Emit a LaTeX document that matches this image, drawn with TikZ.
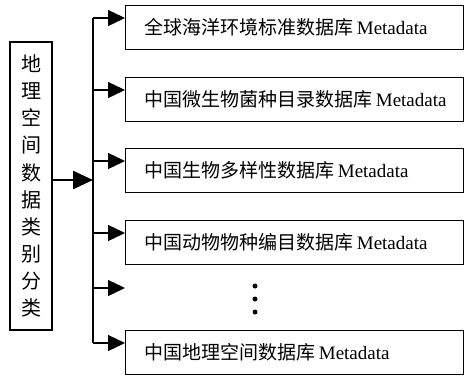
\documentclass[tikz,border=0pt]{standalone}
\usepackage{fontspec}
\setmainfont{Liberation Serif}
\newfontfamily\cjk{Noto Sans CJK SC}
\usetikzlibrary{arrows.meta, positioning}

\tikzset{
  dbbox/.style={draw, line width=1.4pt, anchor=north west, minimum height=44pt,
    text width=300pt, inner xsep=19pt, align=left, font=\fontsize{19}{21}\selectfont},
  branch/.style={line width=1.4pt, -{Triangle[length=17pt,width=16pt]}},
}

\begin{document}
\begin{tikzpicture}[x=1pt,y=-1pt]
\useasboundingbox (0,0) rectangle (466,376);
% category column
\node[draw, line width=1.6pt, minimum width=42pt, minimum height=288pt, inner sep=0pt,
  align=center, font=\cjk\fontsize{20}{27.1}\selectfont] (cat) at (31,186)
  {地\\理\\空\\间\\数\\据\\类\\别\\分\\类};
% databases
\node[dbbox] (b1) at (125,5) {{\cjk 全球海洋环境标准数据库}\,Metadata};
\node[dbbox] (b2) at (125,77) {{\cjk 中国微生物菌种目录数据库}\,Metadata};
\node[dbbox] (b3) at (125,148) {{\cjk 中国生物多样性数据库}\,Metadata};
\node[dbbox] (b4) at (125,220) {{\cjk 中国动物物种编目数据库}\,Metadata};
\node[dbbox] (b5) at (125,330) {{\cjk 中国地理空间数据库}\,Metadata};
\coordinate (trunk) at (93,180);
\coordinate (gap) at (125,288);
\foreach \b in {b1,b2,b3,b4,b5}
  \coordinate (\b-in) at ([yshift=-13pt]\b.north west);
% connectors
\draw[line width=2.4pt, -{Triangle[length=20pt,width=18pt]}] (cat.east |- trunk) -- (trunk);
\draw[line width=1.4pt] (trunk |- b1-in) -- (trunk |- b5-in);
\foreach \b in {b1-in,b2-in,b3-in,b4-in,gap,b5-in}
  \draw[branch] (trunk |- \b) -- (\b);
\foreach \y in {286,299,312}
  \fill (255,\y) circle (2.5pt);
\end{tikzpicture}
\end{document}
